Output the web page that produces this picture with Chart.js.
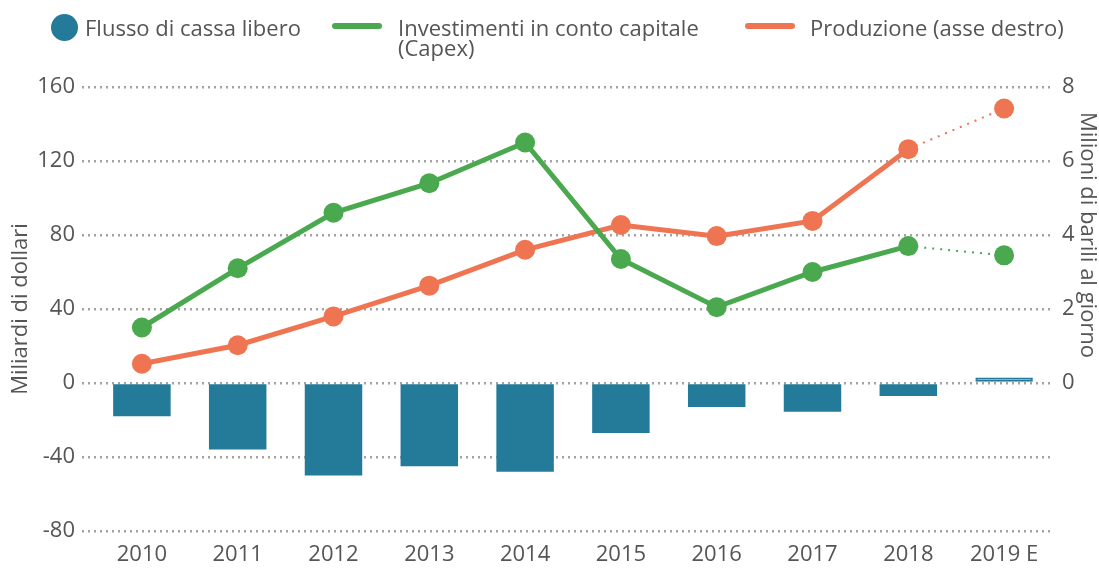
<!DOCTYPE html>
<html>
<head>
<meta charset="utf-8">
<script src="https://cdn.jsdelivr.net/npm/chart.js@4"></script>
<style>
    body { margin: 0; background: #fff; }
    #wrap { position: relative; width: 1099px; height: 569px; font-family: 'Open Sans', sans-serif; color: #555; }
    .leg { position: absolute; font-size: 22px; line-height: 20px; white-space: nowrap; }
    .dot { position: absolute; width: 27px; height: 27px; border-radius: 50%; }
    .bar { position: absolute; height: 6px; border-radius: 3px; }
</style>
</head>
<body>
<div id="wrap">
    <canvas id="chart" width="1099" height="569"></canvas>
    <div class="dot" style="left:51px; top:14px; background:#237b99;"></div>
    <div class="leg" style="left:85px; top:17px;">Flusso di cassa libero</div>
    <div class="bar" style="left:332px; top:23px; width:50px; background:#4aa94f;"></div>
    <div class="leg" style="left:398px; top:17px;">Investimenti in conto capitale<br>(Capex)</div>
    <div class="bar" style="left:745px; top:23px; width:50px; background:#ef7552;"></div>
    <div class="leg" style="left:810px; top:17px;">Produzione (asse destro)</div>
</div>
<script>
// Dati
const anni = ['2010', '2011', '2012', '2013', '2014', '2015', '2016', '2017', '2018', '2019 E'];
const flussoCassa = [-18, -36, -50, -45, -48, -27, -13, -15.5, -7, 3];
const capex = [30, 62, 92, 108, 130, 67, 41, 60, 74, 69];
const produzione = [0.52, 1.02, 1.8, 2.63, 3.6, 4.27, 3.97, 4.38, 6.32, 7.42];
const tickSinistra = [-80, -40, 0, 40, 80, 120, 160];
const tickDestra = [0, 2, 4, 6, 8];

const coloreBarre = '#237b99';
const coloreVerde = '#4aa94f';
const coloreArancio = '#ef7552';
const coloreTesto = '#555';
const coloreGriglia = '#a3a3a3';
const font = { family: "'Open Sans', sans-serif", size: 22 };

// ultimo punto = stima, tratteggiato
const stima = anni.length - 1;
const segmentoStima = {
    borderDash: ctx => ctx.p1DataIndex === stima ? [2, 6] : undefined,
    borderWidth: ctx => ctx.p1DataIndex === stima ? 2 : undefined
};

// titolo dell'asse destro centrato sulla parte 0-8
const titoloDestro = {
    id: 'titoloDestro',
    afterDraw(chart) {
        const ctx = chart.ctx;
        const s = chart.scales.y1;
        const yc = (s.getPixelForValue(0) + s.getPixelForValue(8)) / 2;
        ctx.save();
        ctx.translate(1087, yc);
        ctx.rotate(Math.PI / 2);
        ctx.font = `${font.size}px ${font.family}`;
        ctx.fillStyle = coloreTesto;
        ctx.textAlign = 'center';
        ctx.textBaseline = 'middle';
        ctx.fillText('Milioni di barili al giorno', 0, 0);
        ctx.restore();
    }
};

Chart.defaults.font = font;
Chart.defaults.color = coloreTesto;

new Chart(document.getElementById('chart'), {
    data: {
        labels: anni,
        datasets: [
            {
                type: 'line',
                label: 'Investimenti in conto capitale (Capex)',
                data: capex,
                yAxisID: 'y',
                borderColor: coloreVerde,
                backgroundColor: coloreVerde,
                borderWidth: 5,
                pointRadius: 10,
                pointBorderWidth: 0,
                pointBackgroundColor: coloreVerde,
                segment: segmentoStima,
                order: 1
            },
            {
                type: 'line',
                label: 'Produzione (asse destro)',
                data: produzione,
                yAxisID: 'y1',
                borderColor: coloreArancio,
                backgroundColor: coloreArancio,
                borderWidth: 5,
                pointRadius: 10,
                pointBorderWidth: 0,
                pointBackgroundColor: coloreArancio,
                segment: segmentoStima,
                order: 2
            },
            {
                type: 'bar',
                label: 'Flusso di cassa libero',
                data: flussoCassa,
                yAxisID: 'y',
                backgroundColor: anni.map((a, i) => i === stima ? '#fff' : coloreBarre),
                borderColor: coloreBarre,
                borderWidth: anni.map((a, i) => i === stima ? 2 : 0),
                borderSkipped: false,
                barPercentage: 0.6,
                categoryPercentage: 1,
                order: 3
            }
        ]
    },
    options: {
        responsive: false,
        animation: false,
        devicePixelRatio: 1,
        layout: { padding: { top: 87, left: 0, right: 0, bottom: 0 } },
        plugins: {
            legend: { display: false },
            tooltip: { enabled: false }
        },
        scales: {
            x: {
                grid: { display: false, drawTicks: false },
                border: { display: false },
                ticks: { padding: 11, font: font },
                afterFit: s => { s.height = 38; }
            },
            y: {
                position: 'left',
                min: tickSinistra[0],
                max: tickSinistra[tickSinistra.length - 1],
                afterBuildTicks: s => { s.ticks = tickSinistra.map(v => ({ value: v })); },
                ticks: { padding: 7, font: font },
                grid: {
                    color: coloreGriglia,
                    lineWidth: 2.5,
                    tickLength: 12,
                    tickBorderDash: [2, 4],
                    tickColor: coloreGriglia,
                    tickWidth: 2.5
                },
                border: { display: false, dash: [2, 4] },
                title: {
                    display: true,
                    text: 'Miliardi di dollari',
                    font: font,
                    padding: { top: 8, bottom: 0 }
                },
                afterFit: s => { s.width = 94; }
            },
            y1: {
                position: 'right',
                min: -4,
                max: 8,
                afterBuildTicks: s => { s.ticks = tickDestra.map(v => ({ value: v })); },
                ticks: { padding: 10, font: font },
                grid: { display: false, drawTicks: false },
                border: { display: false },
                afterFit: s => { s.width = 47; }
            }
        }
    },
    plugins: [titoloDestro]
});
</script>
</body>
</html>
